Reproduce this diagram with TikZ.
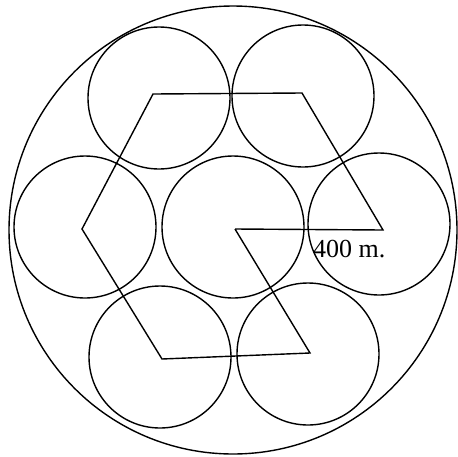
\documentclass[tikz,border=0pt]{standalone}
\usepackage{fontspec}
\setmainfont{Liberation Serif}
\begin{document}
\begin{tikzpicture}[x=1pt,y=-1pt,
  ring/.style={draw=black,line width=1.4pt},
  route/.style={draw=black,line width=1.4pt,line join=miter},
  lbl/.style={inner sep=0pt,anchor=base west,font=\fontsize{26}{28}\selectfont}]
\useasboundingbox (0,0) rectangle (458,456);
% outer circle
\draw[ring] (233,230) circle (224);
% seven small circles
\draw[ring] (159,98) circle (71);
\draw[ring] (303,96) circle (71);
\draw[ring] (85,227) circle (71);
\draw[ring] (233,227) circle (71);
\draw[ring] (379,224) circle (71);
\draw[ring] (160,357) circle (71);
\draw[ring] (308,354) circle (71);
% route vertices
\coordinate (pC) at (235,229);
\coordinate (pR) at (383,230);
\coordinate (pTR) at (302,93);
\coordinate (pTL) at (153,94);
\coordinate (pL) at (82,229);
\coordinate (pBL) at (162,359);
\coordinate (pBR) at (310,353);
\draw[route] (pC) -- (pR) -- (pTR) -- (pTL) -- (pL) -- (pBL) -- (pBR) -- (pC);
\node[lbl] (dist) at (313,257) {400 m.};
\end{tikzpicture}
\end{document}
